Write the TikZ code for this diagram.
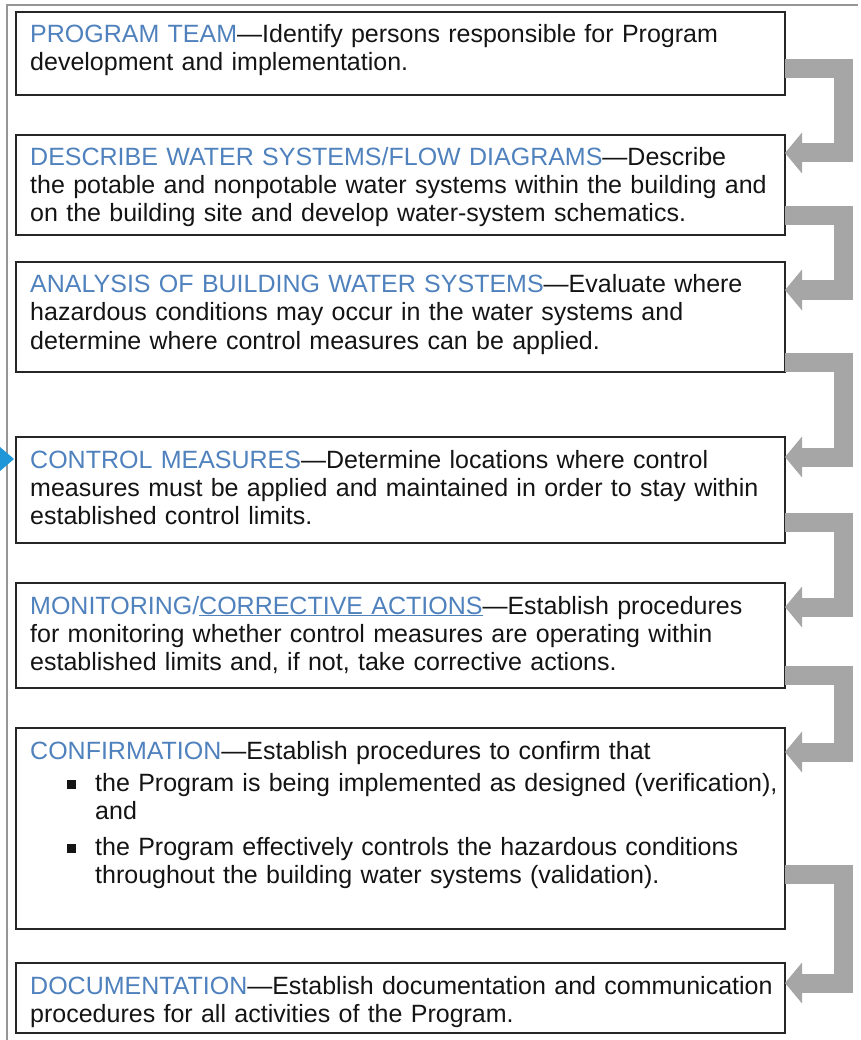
\documentclass[tikz,border=0pt]{standalone}
\usepackage{fontspec}
\setmainfont{Liberation Sans}
\usetikzlibrary{positioning,arrows.meta}

\definecolor{headblue}{RGB}{79,129,189}
\definecolor{flowgray}{RGB}{166,166,166}
\definecolor{framegray}{RGB}{150,150,150}
\definecolor{pointerblue}{RGB}{30,150,215}
\definecolor{textblack}{RGB}{20,20,20}

\newcommand{\head}[1]{\textcolor{headblue}{#1}}
\newcommand{\sqbullet}{\makebox[28pt][l]{\rule[2pt]{9pt}{9pt}}}

\tikzset{
  stepbox/.style={draw=black!85, line width=1.3pt, anchor=north west,
    minimum width=769pt, inner sep=0pt, outer sep=0pt},
  steptext/.style={anchor=base west, text width=755pt, align=left,
    inner sep=0pt, font=\fontsize{25}{28}\selectfont, text=textblack},
  flow/.style={draw=flowgray, line width=19pt,
    -{Triangle[length=17pt,width=40pt]}},
}

\begin{document}
\begin{tikzpicture}[x=1pt, y=1pt]
\useasboundingbox (0,0) rectangle (860,-1040);
% outer frame
\draw[framegray, line width=2.5pt] (7,-1040) -- (7,-5) -- (858,-5);

% steps
\node[stepbox, minimum height=83pt] (team) at (16,-12) {};
\node[stepbox, minimum height=100pt, below=40pt of team] (water) {};
\node[stepbox, minimum height=110pt, below=27pt of water] (analysis) {};
\node[stepbox, minimum height=106pt, below=65pt of analysis] (control) {};
\node[stepbox, minimum height=105pt, below=40pt of control] (monitor) {};
\node[stepbox, minimum height=201pt, below=40pt of monitor] (confirm) {};
\node[stepbox, minimum height=70pt, below=34pt of confirm] (document) {};

\node[steptext] (team-txt) at ([xshift=14pt,yshift=-31pt]team.north west)
  {\head{PROGRAM TEAM}—Identify persons responsible for Program\\
   development and implementation.};
\node[steptext] (water-txt) at ([xshift=14pt,yshift=-31pt]water.north west)
  {\head{DESCRIBE WATER SYSTEMS/FLOW DIAGRAMS}—Describe\\
   the potable and nonpotable water systems within the building and\\
   on the building site and develop water-system schematics.};
\node[steptext] (analysis-txt) at ([xshift=14pt,yshift=-31pt]analysis.north west)
  {\head{ANALYSIS OF BUILDING WATER SYSTEMS}—Evaluate where\\
   hazardous conditions may occur in the water systems and\\
   determine where control measures can be applied.};
\node[steptext] (control-txt) at ([xshift=14pt,yshift=-31pt]control.north west)
  {\head{CONTROL MEASURES}—Determine locations where control\\
   measures must be applied and maintained in order to stay within\\
   established control limits.};
\node[steptext] (monitor-txt) at ([xshift=14pt,yshift=-31pt]monitor.north west)
  {\head{MONITORING/\underline{CORRECTIVE ACTIONS}}—Establish procedures\\
   for monitoring whether control measures are operating within\\
   established limits and, if not, take corrective actions.};
\node[steptext] (confirm-txt) at ([xshift=14pt,yshift=-31pt]confirm.north west)
  {\head{CONFIRMATION}—Establish procedures to confirm that\\[4pt]
   \hspace*{37pt}\sqbullet the Program is being implemented as designed (verification),\\
   \hspace*{65pt}and\\[8pt]
   \hspace*{37pt}\sqbullet the Program effectively controls the hazardous conditions\\
   \hspace*{65pt}throughout the building water systems (validation).};
\node[steptext] (document-txt) at ([xshift=14pt,yshift=-31pt]document.north west)
  {\head{DOCUMENTATION}—Establish documentation and communication\\
   procedures for all activities of the Program.};

% gray flow arrows
\draw[flow] ([yshift=26pt]team.south east) -- ++(58pt,0) |- ([yshift=-18pt]water.north east);
\draw[flow] ([yshift=19pt]water.south east) -- ++(58pt,0) |- ([yshift=-28pt]analysis.north east);
\draw[flow] ([yshift=10pt]analysis.south east) -- ++(58pt,0) |- ([yshift=-20pt]control.north east);
\draw[flow] ([yshift=21pt]control.south east) -- ++(58pt,0) |- ([yshift=-24pt]monitor.north east);
\draw[flow] ([yshift=13pt]monitor.south east) -- ++(58pt,0) |- ([yshift=-24pt]confirm.north east);
\draw[flow] ([yshift=55pt]confirm.south east) -- ++(58pt,0) |- ([yshift=-20pt]document.north east);

% blue pointer
\coordinate (pointer) at ([xshift=-2pt,yshift=-22pt]control.north west);
\fill[pointerblue] (pointer) -- ++(-14pt,12pt) -- ++(0,-24pt) -- cycle;
\end{tikzpicture}
\end{document}
